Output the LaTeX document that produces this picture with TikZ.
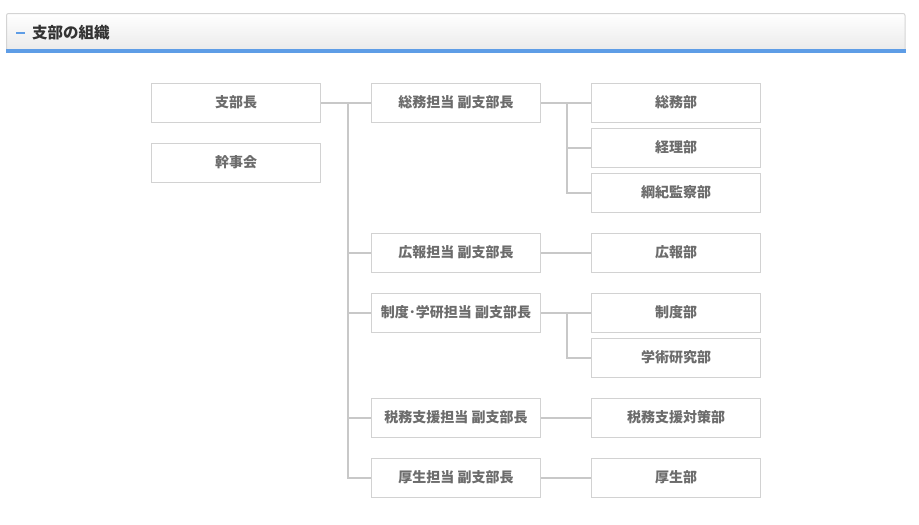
\documentclass[tikz,border=0pt]{standalone}
\usepackage{fontspec}
\setmainfont{Noto Sans CJK JP}
\usetikzlibrary{positioning}
\definecolor{boxline}{HTML}{D2D2D2}
\definecolor{connline}{HTML}{C8C8C8}
\definecolor{txt}{HTML}{6C6C6C}
\definecolor{hdrtxt}{HTML}{333333}
\definecolor{hdrblue}{HTML}{5E9DE6}
\definecolor{hdrborder}{HTML}{D4D4D4}
\tikzset{
  orgbox/.style={draw=boxline, line width=1pt, fill=white, minimum width=169pt, minimum height=39pt,
    inner sep=0pt, font=\fontsize{14}{16}\selectfont\bfseries, text=txt},
  conn/.style={draw=connline, line width=2pt},
}
\begin{document}
\begin{tikzpicture}[x=1pt,y=-1pt]
\useasboundingbox (0,0) rectangle (919,525);
% header
\shade[top color=white, bottom color=white!92!black, rounded corners=2pt] (6.5,13.5) rectangle (905,50);
\draw[hdrborder, line width=1pt, rounded corners=2pt] (6.5,49) -- (6.5,13.5) -- (905,13.5) -- (905,49);
\fill[hdrblue] (6,49) rectangle (905.5,52.5);
\draw[hdrblue, line width=2pt] (16,32.5) -- (25,32.5);
\node[anchor=west, inner sep=0pt, text=hdrtxt, font=\fontsize{15.5}{17}\selectfont\bfseries] (title) at (32,32.5) {支部の組織};
% column 1
\node[orgbox] (boss) at (236,102.5) {支部長};
\node[orgbox] (kanji) at (236,162.5) {幹事会};
% column 2
\node[orgbox] (v1) at (456,102.5) {総務担当 副支部長};
\node[orgbox] (v2) at (456,252.5) {広報担当 副支部長};
\node[orgbox] (v3) at (456,312.5) {制度･学研担当 副支部長};
\node[orgbox] (v4) at (456,417.5) {税務支援担当 副支部長};
\node[orgbox] (v5) at (456,477.5) {厚生担当 副支部長};
% column 3
\node[orgbox] (d1) at (676,102.5) {総務部};
\node[orgbox] (d2) at (676,147.5) {経理部};
\node[orgbox] (d3) at (676,192.5) {綱紀監察部};
\node[orgbox] (d4) at (676,252.5) {広報部};
\node[orgbox] (d5) at (676,312.5) {制度部};
\node[orgbox] (d6) at (676,357.5) {学術研究部};
\node[orgbox] (d7) at (676,417.5) {税務支援対策部};
\node[orgbox] (d8) at (676,477.5) {厚生部};
% connectors
\coordinate (trunk) at (347.5,102.5);
\coordinate (sub1) at (566.5,102.5);
\coordinate (sub3) at (566.5,312.5);
\draw[conn] (boss.east) -- (v1.west);
\draw[conn] (trunk) |- (v2.west);
\draw[conn] (trunk) |- (v3.west);
\draw[conn] (trunk) |- (v4.west);
\draw[conn] (trunk) |- (v5.west);
\draw[conn] (v1.east) -- (d1.west);
\draw[conn] (sub1) |- (d2.west);
\draw[conn] (sub1) |- (d3.west);
\draw[conn] (v2.east) -- (d4.west);
\draw[conn] (v3.east) -- (d5.west);
\draw[conn] (sub3) |- (d6.west);
\draw[conn] (v4.east) -- (d7.west);
\draw[conn] (v5.east) -- (d8.west);
\end{tikzpicture}
\end{document}
